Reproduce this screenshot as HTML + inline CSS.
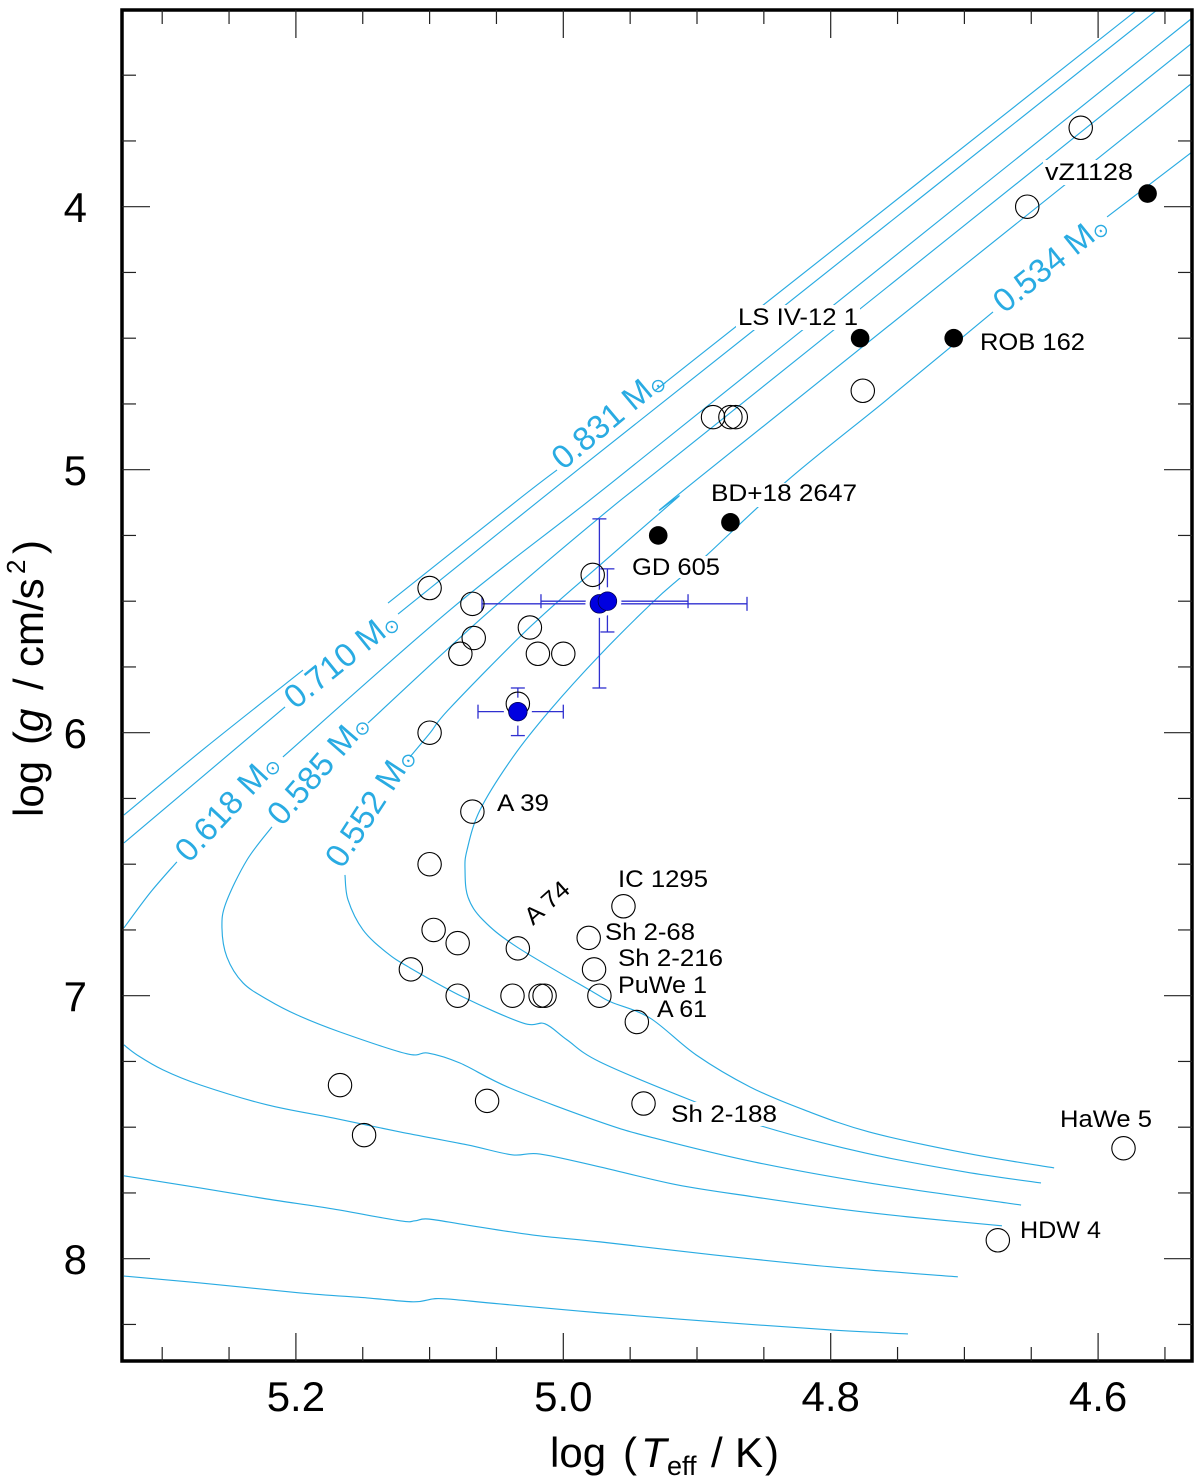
<!DOCTYPE html>
<html lang="en">
<head>
<meta charset="utf-8">
<title>Surface gravity versus effective temperature</title>
<style>
html,body{margin:0;padding:0;background:#fff;}
svg{display:block;}
text{font-family:"Liberation Sans",Arial,sans-serif;fill:#000;}
.star-label{font-size:24px;}
.mass-label{font-size:33px;fill:#29abe2;text-anchor:middle;}
.mass-label tspan{font-family:"DejaVu Sans",sans-serif;font-size:19px;fill:#29abe2;}
.tick-label{font-size:42px;}
.axis-title{font-size:42px;}
</style>
</head>
<body>
<svg id="chart" xmlns="http://www.w3.org/2000/svg" width="1200" height="1478" viewBox="0 0 1200 1478">
  <defs>
    <clipPath id="plot-clip"><rect x="122" y="10" width="1070" height="1351"/></clipPath>
  </defs>
  <rect x="0" y="0" width="1200" height="1478" fill="#fff"/>
  <g id="tracks-layer" clip-path="url(#plot-clip)"></g>

  <g fill="#fff">
    <rect x="736" y="305" width="124" height="25"/>
    <rect x="1043" y="160" width="92" height="25"/>
    <rect x="709" y="483" width="150" height="24"/>
    <rect x="630" y="556" width="92" height="22"/>
    <rect x="669" y="1102" width="110" height="24"/>
  </g>

  <g id="errorbar-layer"></g>
  <g id="frame-layer"></g>

  <g>
    <text class="mass-label" transform="translate(608,419) rotate(-40)" y="11">0.831 M<tspan dy="2">⊙</tspan></text>
    <text class="mass-label" transform="translate(341,659) rotate(-39)" y="11">0.710 M<tspan dy="2">⊙</tspan></text>
    <text class="mass-label" transform="translate(227,807) rotate(-47)" y="11">0.618 M<tspan dy="2">⊙</tspan></text>
    <text class="mass-label" transform="translate(318,769) rotate(-49)" y="11">0.585 M<tspan dy="2">⊙</tspan></text>
    <text class="mass-label" transform="translate(370,807) rotate(-57)" y="11">0.552 M<tspan dy="2">⊙</tspan></text>
    <text class="mass-label" transform="translate(1050,263) rotate(-39)" y="11">0.534 M<tspan dy="2">⊙</tspan></text>
  </g>

  <g>
    <text class="star-label" x="1045" y="180" textLength="88" lengthAdjust="spacingAndGlyphs">vZ1128</text>
    <text class="star-label" x="738" y="325" textLength="120" lengthAdjust="spacingAndGlyphs">LS IV-12 1</text>
    <text class="star-label" x="980" y="350" textLength="105" lengthAdjust="spacingAndGlyphs">ROB 162</text>
    <text class="star-label" x="711" y="501" textLength="146" lengthAdjust="spacingAndGlyphs">BD+18 2647</text>
    <text class="star-label" x="632" y="575" textLength="88" lengthAdjust="spacingAndGlyphs">GD 605</text>
    <text class="star-label" x="497" y="811" textLength="52" lengthAdjust="spacingAndGlyphs">A 39</text>
    <text class="star-label" transform="translate(533,926) rotate(-42)" textLength="52" lengthAdjust="spacingAndGlyphs">A 74</text>
    <text class="star-label" x="618" y="887" textLength="90" lengthAdjust="spacingAndGlyphs">IC 1295</text>
    <text class="star-label" x="605" y="940" textLength="90" lengthAdjust="spacingAndGlyphs">Sh 2-68</text>
    <text class="star-label" x="618" y="966" textLength="105" lengthAdjust="spacingAndGlyphs">Sh 2-216</text>
    <text class="star-label" x="618" y="993" textLength="89" lengthAdjust="spacingAndGlyphs">PuWe 1</text>
    <text class="star-label" x="657" y="1017" textLength="50" lengthAdjust="spacingAndGlyphs">A 61</text>
    <text class="star-label" x="671" y="1122" textLength="106" lengthAdjust="spacingAndGlyphs">Sh 2-188</text>
    <text class="star-label" x="1060" y="1127" textLength="92" lengthAdjust="spacingAndGlyphs">HaWe 5</text>
    <text class="star-label" x="1020" y="1238" textLength="81" lengthAdjust="spacingAndGlyphs">HDW 4</text>
  </g>

  <g id="points-layer"></g>

  <text class="axis-title" y="1467"><tspan x="550">log</tspan><tspan x="623">(</tspan><tspan x="641" font-style="italic">T</tspan><tspan x="667" y="1475" font-size="27">eff</tspan><tspan x="711" y="1467">/</tspan><tspan x="735">K</tspan><tspan x="765">)</tspan></text>
  <text class="axis-title" transform="translate(43,817) rotate(-90)" font-size="41"><tspan x="0">log</tspan><tspan x="72">(</tspan><tspan x="85" font-style="italic">g</tspan><tspan x="127">/</tspan><tspan x="150">cm/s</tspan><tspan x="243" y="-18" font-size="26">2</tspan><tspan x="263" y="0">)</tspan></text>
</svg>

<script>
// Axis tick values
const xMajorTicks = [5.2, 5.0, 4.8, 4.6];
const xMinorTicks = [5.3, 5.25, 5.15, 5.1, 5.05, 4.95, 4.9, 4.85, 4.75, 4.7, 4.65, 4.55];
const yMajorTicks = [4, 5, 6, 7, 8];
const yMinorTicks = [3.5, 3.75, 4.25, 4.5, 4.75, 5.25, 5.5, 5.75, 6.25, 6.5, 6.75, 7.25, 7.5, 7.75, 8.25];
const xTickLabels = ["5.2", "5.0", "4.8", "4.6"];
const yTickLabels = ["4", "5", "6", "7", "8"];

// Evolution tracks (null marks a gap in the line)
const trackMasses = ["0.831", "0.710", "0.618", "0.585", "0.552", "0.534"];

const track831Teff = [4.5709, 4.8978, 4.9239, null, 5.0047, 5.0339, 5.1311, null, 5.1947, 5.2680, 5.3286, null,
  5.3286, 5.2717, 5.1969, 5.1468, 5.1124, 5.0975, 5.0870, 5.0473, 4.9725, 4.8865, 4.7998, 4.7422];
const track831Logg = [3.252, 4.564, 4.670, null, 5.001, 5.115, 5.507, null, 5.762, 6.058, 6.313, null,
  8.066, 8.092, 8.130, 8.149, 8.164, 8.153, 8.153, 8.172, 8.206, 8.240, 8.271, 8.286];

const track710Teff = [4.5559, 4.8978, 5.0174, 5.1236, null, 5.2081, 5.3286, null,
  5.3286, 5.2717, 5.2216, 5.1723, 5.1221, 5.1109, 5.1012, 5.0720, 5.0227, 4.9725, 4.8865, 4.7998, 4.7049];
const track710Logg = [3.252, 4.632, 5.115, 5.549, null, 5.902, 6.419, null,
  7.685, 7.731, 7.773, 7.811, 7.856, 7.856, 7.849, 7.872, 7.910, 7.936, 7.986, 8.031, 8.069];

const track618Teff = [4.5297, 4.8978, 4.9838, 5.0847, 5.2097, null, 5.2890, 5.3091, 5.3286, null,
  5.3286, 5.3189, 5.2994, 5.2717, 5.2216, 5.1723, 5.1221, 5.0720, 5.0384, 5.0174, 4.9725, 4.9150, 4.8574, 4.7998, 4.7422, 4.6719];
const track618Logg = [3.283, 4.781, 5.130, 5.533, 6.092, null, 6.491, 6.609, 6.742, null,
  7.187, 7.225, 7.282, 7.339, 7.415, 7.465, 7.518, 7.567, 7.605, 7.602, 7.651, 7.719, 7.765, 7.807, 7.841, 7.875];

const track585Teff = [4.5297, 4.8978, 4.9725, 5.0601, 5.1461, null, 5.2179, 5.2366, 5.2523, 5.2553, 5.2516, 5.2396, 5.2209, 5.1992, 5.1670, 5.1169, 5.1012, 5.0773, 5.0399, 4.9725, 4.9322, 4.8574, 4.7713, 4.6576];
const track585Logg = [3.378, 4.876, 5.180, 5.560, 5.963, null, 6.358, 6.484, 6.647, 6.742, 6.853, 6.951, 7.016, 7.073, 7.138, 7.221, 7.218, 7.256, 7.351, 7.480, 7.541, 7.632, 7.712, 7.796];

const track552Teff = [4.5297, 4.8978, 4.9150, 4.9725, 5.0249, 5.0847, 5.0997, 5.1147, null, 5.1633, 5.1610, 5.1498, 5.1319, 5.1147, 5.0750, 5.0301, 5.0137, 4.9972, 4.9725, 4.9052, 4.8521, 4.7743, 4.6995, 4.6427];
const track552Logg = [3.530, 5.028, 5.108, 5.362, 5.598, 5.906, 6.001, 6.092, null, 6.541, 6.636, 6.750, 6.837, 6.894, 7.005, 7.104, 7.107, 7.168, 7.252, 7.396, 7.495, 7.598, 7.670, 7.712];

const track534Teff = [4.5297, 4.5933, null, 4.6786, 4.7130, 4.7609, 4.8319, 4.8925, 4.9127, 4.9329, 4.9725, 5.0099, 5.0376, 5.0623, 5.0720, 5.0735, 5.0713, 5.0601, 5.0346, 4.9778, 4.9643, 4.9351, 4.9007, 4.8603, 4.8200, 4.7713, 4.6995, 4.6329];
const track534Logg = [3.792, 4.039, null, 4.400, 4.545, 4.746, 5.039, 5.324, 5.412, 5.503, 5.704, 5.914, 6.092, 6.294, 6.446, 6.522, 6.625, 6.712, 6.815, 6.986, 7.024, 7.085, 7.225, 7.347, 7.434, 7.518, 7.598, 7.655];

const tracksTeff = [track831Teff, track710Teff, track618Teff, track585Teff, track552Teff, track534Teff];
const tracksLogg = [track831Logg, track710Logg, track618Logg, track585Logg, track552Logg, track534Logg];

// Open circles
const openTeff = [4.613, 4.653, 4.776, 4.888, 4.875, 4.871, 5.100, 5.068, 5.067, 5.077, 5.025, 5.019, 5.000, 4.978, 5.034, 5.100, 5.068, 5.100, 5.097, 5.079, 5.034, 5.114, 5.079, 5.038, 5.017, 5.014, 4.973, 4.981, 4.977, 4.955, 4.945, 4.940, 5.057, 5.167, 5.149, 4.581, 4.675];
const openLogg = [3.70, 4.00, 4.70, 4.80, 4.80, 4.80, 5.45, 5.51, 5.64, 5.70, 5.60, 5.70, 5.70, 5.40, 5.89, 6.00, 6.30, 6.50, 6.75, 6.80, 6.82, 6.90, 7.00, 7.00, 7.00, 7.00, 7.00, 6.78, 6.90, 6.66, 7.10, 7.41, 7.40, 7.34, 7.53, 7.58, 7.93];

// Filled black points
const filledTeff = [4.563, 4.778, 4.708, 4.875, 4.929];
const filledLogg = [3.95, 4.50, 4.50, 5.20, 5.25];

// Blue points with error bars
const blueTeff = [4.973, 4.967, 5.034];
const blueLogg = [5.51, 5.50, 5.92];
const blueTeffHot = [5.0608, 5.0167, 5.0638];
const blueTeffCool = [4.8626, 4.9067, 5.000];
const blueLoggLow = [5.187, 5.377, 5.830];
const blueLoggHigh = [5.830, 5.617, 6.011];

const SVG_NS = 'http://www.w3.org/2000/svg';
const xScale = (t) => 563.3 + (5.0 - t) * 1337;
const yScale = (g) => 206.7 + (g - 4) * 263;
const TRACK_COLOR = '#29abe2';
const BAR_COLOR = '#3030d0';

function make(tag, parent, attrs) {
  const el = document.createElementNS(SVG_NS, tag);
  for (const key in attrs) el.setAttribute(key, attrs[key]);
  parent.appendChild(el);
  return el;
}

function smoothPath(points) {
  let d = 'M' + points[0][0].toFixed(2) + ' ' + points[0][1].toFixed(2);
  for (let i = 0; i < points.length - 1; i++) {
    const p0 = points[Math.max(i - 1, 0)];
    const p1 = points[i];
    const p2 = points[i + 1];
    const p3 = points[Math.min(i + 2, points.length - 1)];
    const c1x = p1[0] + (p2[0] - p0[0]) / 6;
    const c1y = p1[1] + (p2[1] - p0[1]) / 6;
    const c2x = p2[0] - (p3[0] - p1[0]) / 6;
    const c2y = p2[1] - (p3[1] - p1[1]) / 6;
    d += 'C' + c1x.toFixed(2) + ' ' + c1y.toFixed(2) + ' ' + c2x.toFixed(2) + ' ' + c2y.toFixed(2) + ' ' + p2[0].toFixed(2) + ' ' + p2[1].toFixed(2);
  }
  return d;
}

// Tracks
const tracksLayer = document.getElementById('tracks-layer');
tracksTeff.forEach((teffs, i) => {
  const loggs = tracksLogg[i];
  let d = '';
  let run = [];
  for (let k = 0; k <= teffs.length; k++) {
    if (k === teffs.length || teffs[k] === null) {
      if (run.length > 1) d += smoothPath(run);
      run = [];
    } else {
      run.push([xScale(teffs[k]), yScale(loggs[k])]);
    }
  }
  const path = make('path', tracksLayer, { d: d, fill: 'none', stroke: TRACK_COLOR, 'stroke-width': 1.15 });
  
  
});

// Frame and ticks
const frameLayer = document.getElementById('frame-layer');
const frame = make('rect', frameLayer, { x: 122, y: 10, width: 1070, height: 1351, fill: 'none', stroke: '#000', 'stroke-width': 3.5 });



function xTick(value, len, kind) {
  const x = xScale(value);
  const top = make('line', frameLayer, { x1: x, x2: x, y1: 10, y2: 10 + len, stroke: '#222', 'stroke-width': 1.2 });
  
  
  const bottom = make('line', frameLayer, { x1: x, x2: x, y1: 1361, y2: 1361 - len, stroke: '#222', 'stroke-width': 1.2 });
  
  
}
function yTick(value, len, kind) {
  const y = yScale(value);
  const left = make('line', frameLayer, { x1: 122, x2: 122 + len, y1: y, y2: y, stroke: '#222', 'stroke-width': 1.2 });
  
  
  const right = make('line', frameLayer, { x1: 1192, x2: 1192 - len, y1: y, y2: y, stroke: '#222', 'stroke-width': 1.2 });
  
  
}
xMajorTicks.forEach((v) => xTick(v, 28, 'major'));
xMinorTicks.forEach((v) => xTick(v, 14, 'minor'));
yMajorTicks.forEach((v) => yTick(v, 28, 'major'));
yMinorTicks.forEach((v) => yTick(v, 14, 'minor'));

xMajorTicks.forEach((v, i) => {
  const t = make('text', frameLayer, { x: xScale(v), y: 1411, 'text-anchor': 'middle', class: 'tick-label' });
  t.textContent = xTickLabels[i];
  
  
});
yMajorTicks.forEach((v, i) => {
  const t = make('text', frameLayer, { x: 87, y: yScale(v) + 15.5, 'text-anchor': 'end', class: 'tick-label' });
  t.textContent = yTickLabels[i];
  
  
});

// Error bars
const barLayer = document.getElementById('errorbar-layer');
const CAP = 7;
function segment(x1, y1, x2, y2) {
  const seg = make('line', barLayer, { x1: x1, y1: y1, x2: x2, y2: y2, stroke: BAR_COLOR, 'stroke-width': 1.3 });
  
  
}
blueTeff.forEach((t, i) => {
  const cx = xScale(t);
  const cy = yScale(blueLogg[i]);
  const xa = xScale(blueTeffHot[i]);
  const xb = xScale(blueTeffCool[i]);
  const ya = yScale(blueLoggLow[i]);
  const yb = yScale(blueLoggHigh[i]);
  segment(xa, cy, xb, cy);
  segment(xa, cy - CAP, xa, cy + CAP);
  segment(xb, cy - CAP, xb, cy + CAP);
  segment(cx, ya, cx, yb);
  segment(cx - CAP, ya, cx + CAP, ya);
  segment(cx - CAP, yb, cx + CAP, yb);
});

// Points
const pointsLayer = document.getElementById('points-layer');
blueTeff.forEach((t, i) => {
  const halo = make('circle', pointsLayer, { cx: xScale(t), cy: yScale(blueLogg[i]), r: 14, fill: '#fff' });
  
  
});
openTeff.forEach((t, i) => {
  const c = make('circle', pointsLayer, { cx: xScale(t), cy: yScale(openLogg[i]), r: 11.7, fill: 'none', stroke: '#000', 'stroke-width': 1.1 });
  
  
});
filledTeff.forEach((t, i) => {
  const c = make('circle', pointsLayer, { cx: xScale(t), cy: yScale(filledLogg[i]), r: 9.3, fill: '#000' });
  
  
});
blueTeff.forEach((t, i) => {
  const c = make('circle', pointsLayer, { cx: xScale(t), cy: yScale(blueLogg[i]), r: 9.3, fill: '#0000e0', stroke: '#000050', 'stroke-width': 0.8 });
  
  
});
</script>
</body>
</html>
